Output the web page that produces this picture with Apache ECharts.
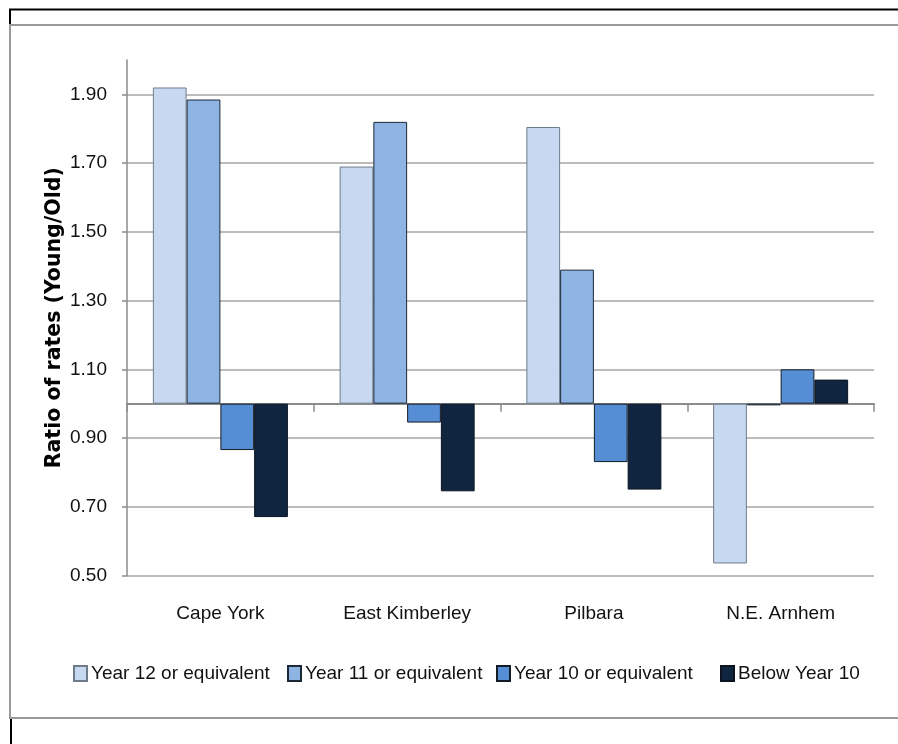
<!DOCTYPE html>
<html>
<head>
<meta charset="utf-8">
<title>Ratio of rates (Young/Old)</title>
<script src="https://cdn.jsdelivr.net/npm/echarts@6/dist/echarts.min.js"></script>
<style>
  html, body { margin: 0; padding: 0; background: #ffffff; }
  #chart { width: 898px; height: 744px; }
</style>
</head>
<body>
<div id="chart"></div>
<script>
// Regions along the category axis
const categories = ['Cape York', 'East Kimberley', 'Pilbara', 'N.E. Arnhem'];

// Ratio of rates (Young/Old) by schooling level
const year12 = [1.92, 1.69, 1.805, 0.535];
const year11 = [1.885, 1.82, 1.39, 0.995];
const year10 = [0.865, 0.945, 0.83, 1.10];
const belowYear10 = [0.67, 0.745, 0.75, 1.07];

const seriesNames = ['Year 12 or equivalent', 'Year 11 or equivalent', 'Year 10 or equivalent', 'Below Year 10'];

// Bars hang from a ratio of 1 (no difference between young and old)
const BASELINE = 1.0;
const axisMin = 0.5;
const axisMax = 2.0;
const tickStep = 0.2;

const FONT = '"Liberation Sans", Arial, sans-serif';

const fills = ['#C6D9F1', '#8EB4E3', '#558ED5', '#10253F'];
const borders = ['#6f7b8a', '#1c2836', '#151b24', '#0b1420'];
const valueSets = [year12, year11, year10, belowYear10];

// left edge of each legend entry
const legendLefts = [73, 287, 496, 720];

const chart = echarts.init(document.getElementById('chart'), null, { renderer: 'canvas' });

const series = valueSets.map((vals, i) => ({
  name: seriesNames[i],
  type: 'bar',
  xAxisIndex: 0,
  yAxisIndex: 0,
  barGap: '0%',
  barCategoryGap: '27.7%',
  data: vals.map(v => +(v - BASELINE).toFixed(4)),
  itemStyle: { color: fills[i], borderColor: borders[i], borderWidth: 1 },
  emphasis: { disabled: true },
  animation: false
}));

const legends = seriesNames.map((name, i) => ({
  data: [name],
  left: legendLefts[i],
  top: 664,
  padding: 0,
  itemWidth: 13,
  itemHeight: 15,
  icon: 'rect',
  textStyle: { fontFamily: FONT, fontSize: 19, color: '#111', padding: [0, 0, 0, -1] },
  selectedMode: false
}));

const option = {
  backgroundColor: '#ffffff',
  animation: false,
  grid: { left: 127, right: 24, top: 60, bottom: 168.5, containLabel: false },
  xAxis: [
    {
      // axis line drawn along the ratio = 1 baseline
      type: 'category',
      data: categories,
      position: 'bottom',
      axisLine: { onZero: true, lineStyle: { color: '#8c8c8c', width: 2 } },
      axisTick: { show: true, length: 8, lineStyle: { color: '#8c8c8c', width: 1.5 } },
      axisLabel: { show: false },
      splitLine: { show: false }
    },
    {
      // category names along the bottom of the plot
      type: 'category',
      data: categories,
      position: 'bottom',
      axisLine: { show: false, onZero: false },
      axisTick: { show: false },
      axisLabel: { show: true, interval: 0, margin: 29, color: '#111', fontFamily: FONT, fontSize: 19 },
      splitLine: { show: false }
    }
  ],
  yAxis: {
    type: 'value',
    min: axisMin - BASELINE,
    max: axisMax - BASELINE,
    interval: tickStep,
    name: 'Ratio of rates (Young/Old)',
    nameLocation: 'middle',
    nameRotate: 90,
    nameGap: 62,
    nameMoveOverlap: false,
    nameTextStyle: { fontFamily: '"DejaVu Sans", sans-serif', fontWeight: 'bold', fontSize: 20.5, color: '#000' },
    axisLine: { show: true, lineStyle: { color: '#8c8c8c', width: 1.5 } },
    axisTick: { show: true, length: 5, lineStyle: { color: '#8c8c8c', width: 1.5 } },
    axisLabel: {
      margin: 20,
      color: '#111',
      fontFamily: FONT,
      fontSize: 19,
      padding: [6, 0, 0, 0],
      showMaxLabel: false,
      formatter: v => (v + BASELINE).toFixed(2)
    },
    splitLine: { show: true, showMaxLine: false, lineStyle: { color: '#a6a6a6', width: 1.5 } }
  },
  legend: legends,
  graphic: [
    // outer frame of the chart area
    { type: 'line', shape: { x1: 9, y1: 9.5, x2: 898, y2: 9.5 }, style: { stroke: '#000', lineWidth: 2 }, silent: true },
    { type: 'line', shape: { x1: 10, y1: 9, x2: 10, y2: 25 }, style: { stroke: '#000', lineWidth: 2 }, silent: true },
    { type: 'line', shape: { x1: 9, y1: 25, x2: 898, y2: 25 }, style: { stroke: '#9a9a9a', lineWidth: 2 }, silent: true },
    { type: 'line', shape: { x1: 10, y1: 25, x2: 10, y2: 718 }, style: { stroke: '#9a9a9a', lineWidth: 2 }, silent: true },
    { type: 'line', shape: { x1: 9, y1: 718, x2: 898, y2: 718 }, style: { stroke: '#9a9a9a', lineWidth: 2 }, silent: true },
    { type: 'line', shape: { x1: 11, y1: 719, x2: 11, y2: 744 }, style: { stroke: '#000', lineWidth: 2 }, silent: true }
  ],
  series: series
};

chart.setOption(option);
</script>
</body>
</html>
